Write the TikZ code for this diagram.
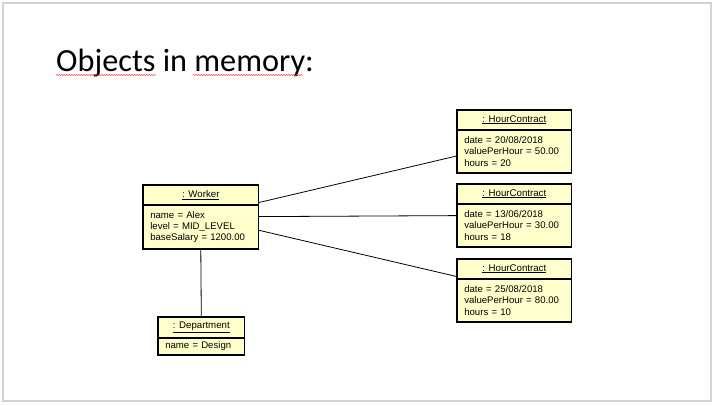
\documentclass[tikz,border=0pt]{standalone}
\usepackage{fontspec}
\setmainfont{Liberation Sans}
\newfontfamily\titlefont{Carlito}
\usetikzlibrary{positioning}
\usetikzlibrary{decorations.pathmorphing}
\definecolor{objfill}{RGB}{255,255,204}
\definecolor{slideline}{RGB}{212,212,212}
\tikzset{objhead/.style = {draw, fill = objfill, inner sep = 0, anchor = north west,
                           line width = 0.6, font = \fontsize{9.7}{11}\selectfont}}
\tikzset{objbody/.style = {draw, fill = objfill, inner ysep = 0, inner xsep = 7,
                           line width = 0.6, align = left,
                           font = \fontsize{9.6}{11.2}\selectfont}}
\tikzset{objframe/.style = {draw, line width = 1.6}}
\tikzset{link/.style = {draw, line width = 0.8}}
\tikzset{squiggle/.style = {red!80, line width = 0.5,
                            decorate, decoration = {snake, amplitude = 0.6, segment length = 2.5}}}

\begin{document}
\begin{tikzpicture}[x = 1pt, y = -1pt]
    \useasboundingbox (0, 0) rectangle (715, 405);
    \draw [slideline, line width = 1.5] (3, 3) rectangle (711, 401);

    % title
    \node [anchor = base west, inner sep = 0, font = \titlefont\fontsize{32.3}{36}\selectfont]
      (title) at (56, 71) {Objects in memory:};
    \draw [squiggle] (56, 75) -- (156, 75);
    \draw [squiggle] (193, 75) -- (303, 75);

    % worker
    \node [objhead, minimum width = 115, minimum height = 19] (whead) at (143, 185) {\underline{: Worker}};
    \node [objbody, below = 0pt of whead, text width = 101, minimum height = 44] (wbody)
      {name = Alex\\level = MID\_LEVEL\\baseSalary = 1200.00};
    \draw [objframe] (whead.north west) rectangle (wbody.south east);

    % contracts
    \node [objhead, minimum width = 114, minimum height = 19] (hchead1) at (457, 110) {\underline{: HourContract}};
    \node [objbody, below = 0pt of hchead1, text width = 100, minimum height = 43] (hcbody1)
      {date = 20/08/2018\\valuePerHour = 50.00\\hours = 20};
    \draw [objframe] (hchead1.north west) rectangle (hcbody1.south east);

    \node [objhead, minimum width = 114, minimum height = 19] (hchead2) at (457, 184) {\underline{: HourContract}};
    \node [objbody, below = 0pt of hchead2, text width = 100, minimum height = 43] (hcbody2)
      {date = 13/06/2018\\valuePerHour = 30.00\\hours = 18};
    \draw [objframe] (hchead2.north west) rectangle (hcbody2.south east);

    \node [objhead, minimum width = 114, minimum height = 19] (hchead3) at (457, 259) {\underline{: HourContract}};
    \node [objbody, below = 0pt of hchead3, text width = 100, minimum height = 43] (hcbody3)
      {date = 25/08/2018\\valuePerHour = 80.00\\hours = 10};
    \draw [objframe] (hchead3.north west) rectangle (hcbody3.south east);

    % department
    \node [objhead, minimum width = 86, minimum height = 20] (dhead) at (158, 317) {\underline{: Department}};
    \node [objbody, below = 0pt of dhead, text width = 72, minimum height = 17] (dbody)
      {name = Design};
    \draw [objframe] (dhead.north west) rectangle (dbody.south east);

    % links
    \draw [link] ([yshift = 2]wbody.north east) -- ([yshift = -4.5]hcbody1.west);
    \draw [link] ([yshift = -12]wbody.north east) -- ([yshift = -12]hcbody2.north west);
    \draw [link] ([yshift = 19]wbody.south east) -- ([yshift = 2]hchead3.south west);
    \draw [link] (wbody.south) -- (dhead.north);
  \end{tikzpicture}
\end{document}
